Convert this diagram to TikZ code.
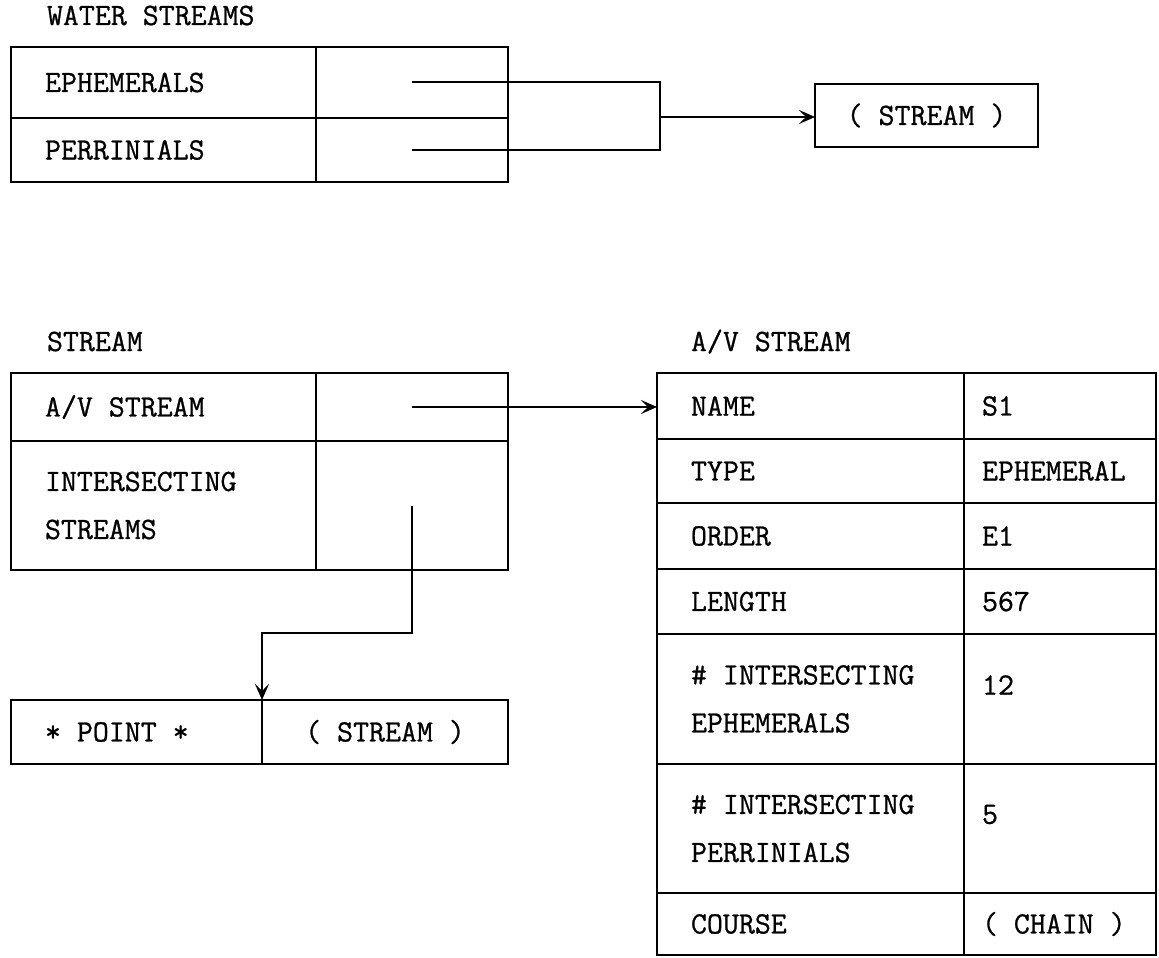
\documentclass[tikz,border=0pt]{standalone}
\usepackage{fontspec}
\newfontface\typefont{Latin Modern Mono}[FakeBold=0.8]
\usepackage{tikz}
\usetikzlibrary{positioning,arrows.meta}

\tikzset{
  cell/.style={draw, outer sep=0pt, inner ysep=0pt, align=left,
    execute at begin node={\spaceskip=0pt\xspaceskip=0pt}},
  keycell/.style={cell, inner xsep=17pt, text width=#1},
  valcell/.style={cell, inner xsep=9pt, text width=78pt},
  tabtitle/.style={anchor=base west, inner sep=0pt},
  arr/.style={-{Stealth[length=8pt, width=7pt, inset=3.5pt]}}
}

\begin{document}
\begin{tikzpicture}[x=0.5pt, y=-0.5pt, line width=1pt, font=\typefont\fontsize{15.5pt}{24pt}\selectfont]
    \useasboundingbox (0,0) rectangle (1159,957);

    % water streams
    \node[tabtitle] (wstitle) at (46,25) {WATER STREAMS};
    \node[keycell=118.5pt, minimum height=35.5pt, anchor=north west] (eph) at (11,47) {EPHEMERALS};
    \node[cell, minimum width=96pt, minimum height=35.5pt, right=0pt of eph] (ephv) {};
    \node[keycell=118.5pt, minimum height=32pt, below=0pt of eph] (per) {PERRINIALS};
    \node[cell, minimum width=96pt, minimum height=32pt, right=0pt of per] (perv) {};
    \node[cell, minimum width=111.5pt, minimum height=31.5pt, anchor=north west] (strm) at (815,84) {( STREAM )};
    \coordinate (join) at (660,117);

    \draw (ephv.center) -| (join) |- (perv.center);
    \draw[arr] (join) -- (join -| strm.west);

    % stream
    \node[tabtitle] (sttitle) at (46,351) {STREAM};
    \node[keycell=118.5pt, minimum height=34pt, anchor=north west] (av) at (11,373) {A/V STREAM};
    \node[cell, minimum width=96pt, minimum height=34pt, right=0pt of av] (avv) {};
    \node[keycell=118.5pt, minimum height=64.5pt, below=0pt of av] (ints) {INTERSECTING\\STREAMS};
    \node[cell, minimum width=96pt, minimum height=64.5pt, right=0pt of ints] (intsv) {};

    \node[keycell=91.5pt, minimum height=32pt, anchor=north west] (pt) at (11,700) {* POINT *};
    \node[cell, minimum width=123pt, minimum height=32pt, right=0pt of pt] (ptv) {( STREAM )};
    \coordinate (elbow) at (262,633);

    % a/v stream
    \node[tabtitle] (avtitle) at (690,351) {A/V STREAM};
    \node[keycell=119.5pt, minimum height=33pt, anchor=north west] (name) at (657,373) {NAME};
    \node[valcell, minimum height=33pt, right=0pt of name] (namev) {S1};
    \node[keycell=119.5pt, minimum height=32pt, below=0pt of name] (type) {TYPE};
    \node[valcell, minimum height=32pt, right=0pt of type] (typev) {EPHEMERAL};
    \node[keycell=119.5pt, minimum height=33pt, below=0pt of type] (order) {ORDER};
    \node[valcell, minimum height=33pt, right=0pt of order] (orderv) {E1};
    \node[keycell=119.5pt, minimum height=32.5pt, below=0pt of order] (length) {LENGTH};
    \node[valcell, minimum height=32.5pt, right=0pt of length] (lengthv) {567};
    \node[keycell=119.5pt, minimum height=65pt, below=0pt of length] (ieph) {\# INTERSECTING\\EPHEMERALS};
    \node[valcell, minimum height=65pt, right=0pt of ieph] (iephv) {\raisebox{7pt}[\height][\depth]{12}};
    \node[keycell=119.5pt, minimum height=64.5pt, below=0pt of ieph] (iper) {\# INTERSECTING\\PERRINIALS};
    \node[valcell, minimum height=64.5pt, right=0pt of iper] (iperv) {\raisebox{7pt}[\height][\depth]{5}};
    \node[keycell=119.5pt, minimum height=31pt, below=0pt of iper] (course) {COURSE};
    \node[valcell, minimum height=31pt, right=0pt of course] (coursev) {( CHAIN )};

    \draw[arr] (avv.center) -- (avv.center -| name.west);
    \draw[arr] (intsv.center) |- (elbow) -- (pt.north east);
\end{tikzpicture}
\end{document}
